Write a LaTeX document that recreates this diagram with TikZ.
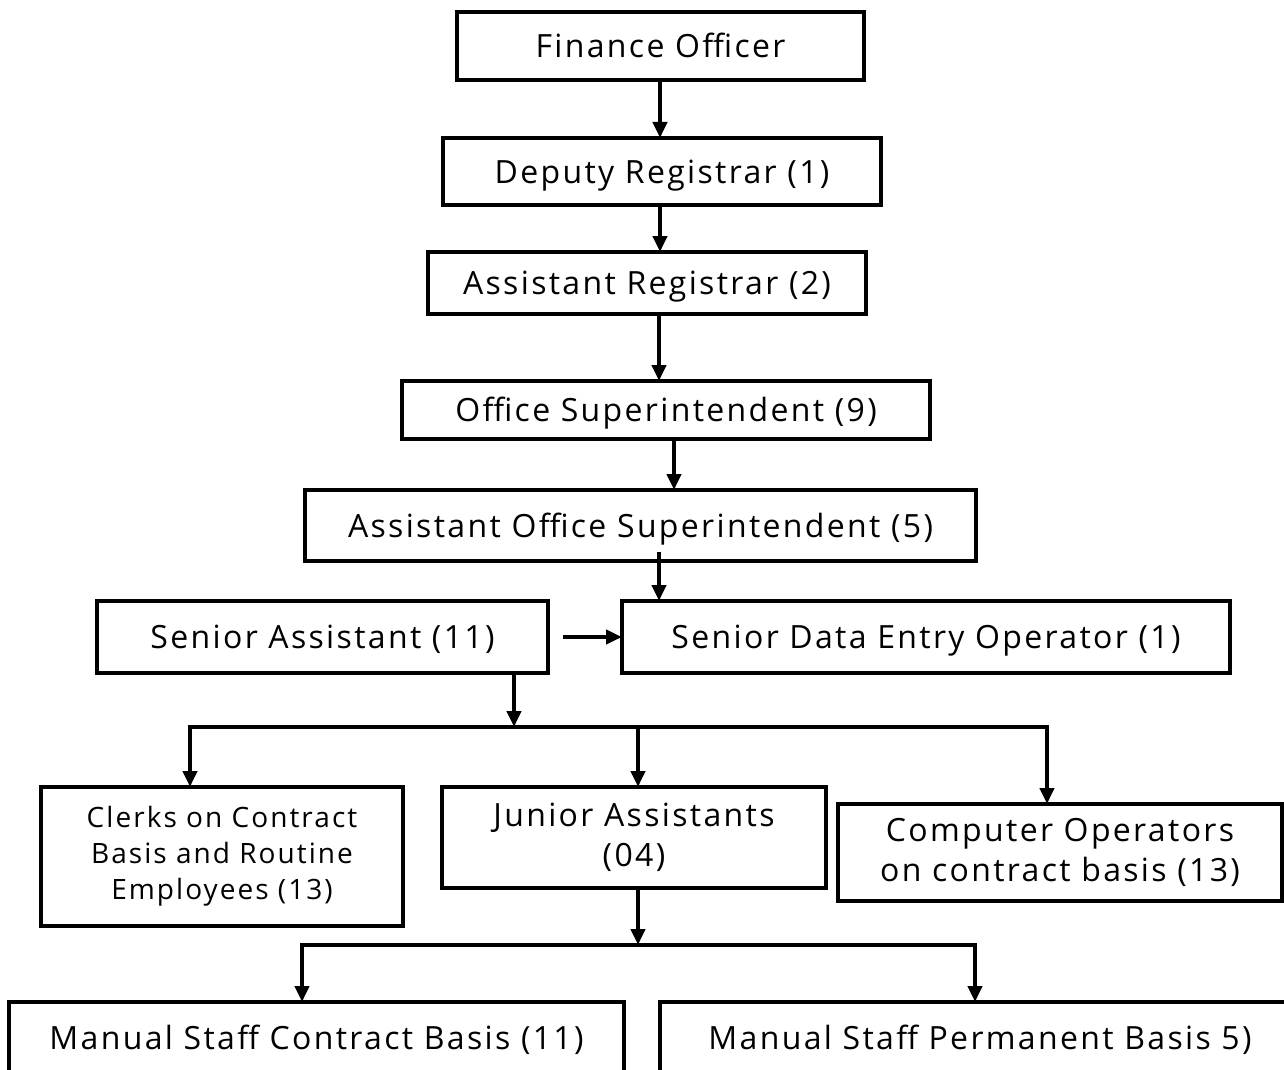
\documentclass[tikz,border=0pt]{standalone}
\usepackage{fontspec}
\setmainfont{Open Sans}[LetterSpace=7.3]
\usetikzlibrary{arrows.meta}
\begin{document}
\begin{tikzpicture}[x=1pt,y=-1pt,
  box/.style={draw, line width=3.5pt, inner sep=0pt, outer sep=0pt},
  one/.style={box, font=\fontsize{32}{40}\selectfont, text height=23pt, text depth=0pt},
  multi/.style={box, align=center, font=\fontsize{32}{40}\selectfont},
  small/.style={box, align=center, font=\fontsize{28}{36}\selectfont},
  conn/.style={line width=4pt},
  arr/.style={conn, -{Triangle[length=16pt,width=14pt]}}]
\clip (0,0) rectangle (1284,1070);
\fill[white] (0,0) rectangle (1284,1070);
% boxes
\node[one, minimum width=407pt, minimum height=68pt] (fo) at (660.5,46) {Finance Officer};
\node[one, minimum width=438pt, minimum height=67pt] (dr) at (662,171.5) {Deputy Registrar (1)};
\node[one, minimum width=438pt, minimum height=62pt] (ar) at (647,283) {Assistant Registrar (2)};
\node[one, minimum width=528pt, minimum height=58pt] (os) at (666,410) {Office Superintendent (9)};
\node[one, minimum width=671pt, minimum height=71pt] (aos) at (640.5,525.5) {Assistant Office Superintendent (5)};
\node[one, minimum width=451pt, minimum height=72pt] (sa) at (322.5,637) {Senior Assistant (11)};
\node[one, minimum width=608pt, minimum height=72pt] (sdeo) at (926,637) {Senior Data Entry Operator (1)};
\node[small, minimum width=362pt, minimum height=139pt] (cl) at (222,856.5) {Clerks on Contract\\Basis and Routine\\Employees (13)};
\node[multi, minimum width=384pt, minimum height=101pt] (ja) at (634,837.5) {Junior Assistants\\(04)};
\node[multi, minimum width=444pt, minimum height=97pt] (co) at (1060,852.5) {Computer Operators\\on contract basis (13)};
\node[one, minimum width=615pt, minimum height=72pt] (msc) at (316.5,1038) {Manual Staff Contract Basis (11)};
\node[one, minimum width=640pt, minimum height=72pt] (msp) at (980,1038) {Manual Staff Permanent Basis 5)};
% helper coordinates
\coordinate (x660) at (660,0);
\coordinate (x659) at (659,0);
\coordinate (x674) at (674,0);
\coordinate (x514) at (514,0);
\coordinate (x190) at (190,0);
\coordinate (x638) at (638,0);
\coordinate (x1047) at (1047,0);
\coordinate (x302) at (302,0);
\coordinate (x975) at (975,0);
\coordinate (busA) at (638,727);
\coordinate (busB) at (638,945);
\coordinate (aosstart) at (659,552);
% connectors
\draw[arr] (fo.south -| x660) -- (dr.north -| x660);
\draw[arr] (dr.south -| x660) -- (ar.north -| x660);
\draw[arr] (ar.south -| x659) -- (os.north -| x659);
\draw[arr] (os.south -| x674) -- (aos.north -| x674);
\draw[arr] (aosstart) -- (sdeo.north -| aosstart);
\draw[arr] ([xshift=15pt]sa.east) -- (sdeo.west);
\draw[arr] (sa.south -| x514) -- (x514 |- busA);
\draw[arr] (busA) -| (cl.north -| x190);
\draw[arr] (busA) -| (co.north -| x1047);
\draw[arr] (busA) -- (ja.north -| x638);
\draw[arr] (ja.south -| x638) -- (busB);
\draw[arr] (busB) -| (msc.north -| x302);
\draw[arr] (busB) -| (msp.north -| x975);
\end{tikzpicture}
\end{document}
